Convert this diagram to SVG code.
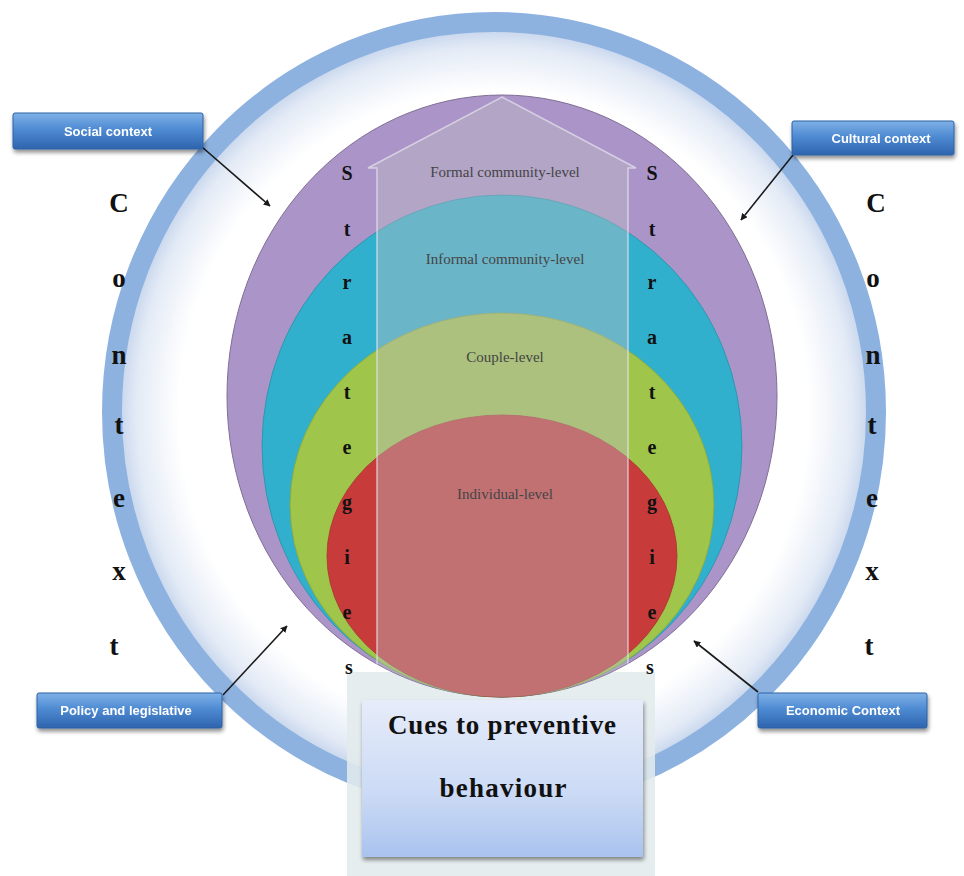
<svg xmlns="http://www.w3.org/2000/svg" width="964" height="876" viewBox="0 0 964 876">
<defs>
<radialGradient id="inner" cx="0.5" cy="0.5" r="0.5">
<stop offset="0" stop-color="#ffffff"/>
<stop offset="0.82" stop-color="#ffffff"/>
<stop offset="0.93" stop-color="#e4ebf6"/>
<stop offset="1" stop-color="#b8cbe8"/>
</radialGradient>
<linearGradient id="btn" x1="0" y1="0" x2="0" y2="1">
<stop offset="0" stop-color="#7fb1e6"/>
<stop offset="0.45" stop-color="#4f8bd3"/>
<stop offset="1" stop-color="#2d64ad"/>
</linearGradient>
<linearGradient id="cue" x1="0" y1="0" x2="0" y2="1">
<stop offset="0" stop-color="#e6ecfa"/>
<stop offset="0.6" stop-color="#cbdaf5"/>
<stop offset="1" stop-color="#a9c3ee"/>
</linearGradient>
<clipPath id="inPurple">
<ellipse cx="502" cy="396" rx="275" ry="301"/>
</clipPath>
<filter id="sh" x="-10%" y="-10%" width="125%" height="140%">
<feGaussianBlur in="SourceAlpha" stdDeviation="2"/>
<feOffset dx="1" dy="3"/>
<feComponentTransfer><feFuncA type="linear" slope="0.45"/></feComponentTransfer>
<feMerge><feMergeNode/><feMergeNode in="SourceGraphic"/></feMerge>
</filter>
<marker id="ah" viewBox="0 0 10 10" refX="9" refY="5" markerWidth="7" markerHeight="7" orient="auto" markerUnits="userSpaceOnUse">
<path d="M0,0 L10,5 L0,10 z" fill="#1a1a1a"/>
</marker>
<style>
.lvl{font-family:"Liberation Serif","Times New Roman",serif;font-size:15px;fill:#444444;text-anchor:middle}
.st{font-family:"Liberation Serif","Times New Roman",serif;font-size:20px;font-weight:bold;fill:#111;text-anchor:middle}
.ctx{font-family:"Liberation Serif","Times New Roman",serif;font-size:27px;font-weight:bold;fill:#111;text-anchor:middle}
.btxt{font-family:"Liberation Sans",Arial,sans-serif;font-size:13px;font-weight:bold;fill:#ffffff;text-anchor:middle}
.cue{font-family:"Liberation Serif","Times New Roman",serif;font-size:27px;font-weight:bold;fill:#111;text-anchor:middle}
.btn{fill:url(#btn);stroke:#2f62a6;stroke-width:1}
.conn{stroke:#1a1a1a;stroke-width:1.6;fill:none;marker-end:url(#ah)}
</style>
</defs>
<rect width="964" height="876" fill="#ffffff"/>
<g id="outer-ring">
<ellipse cx="494" cy="412" rx="384" ry="392" fill="url(#inner)"/>
<ellipse cx="494" cy="412" rx="382" ry="390" fill="none" stroke="#8db2e0" stroke-width="20"/>
</g>
<rect id="cue-column" x="347" y="672" width="308" height="204" fill="#e2eaec" fill-opacity="0.88"/>
<g id="levels">
<ellipse id="formal" cx="502" cy="396" rx="275" ry="301" fill="#ab95c8" stroke="#7f6f95" stroke-width="1"/>
<ellipse id="informal" cx="502" cy="446" rx="240" ry="251" fill="#31b0cd" stroke="#2a8fa8" stroke-width="0.8"/>
<ellipse id="couple" cx="502" cy="505" rx="212" ry="192" fill="#9fc54a" stroke="#86a63c" stroke-width="0.8"/>
<ellipse id="individual" cx="502" cy="556" rx="175" ry="141" fill="#c73c3a" stroke="#a83230" stroke-width="0.8"/>
</g>
<g id="up-arrow" clip-path="url(#inPurple)">
<polygon points="502,97 636,168 628,168 628,700 377,700 377,168 368,168" fill="#bcbcc4" fill-opacity="0.42" stroke="#e8e4f0" stroke-opacity="0.7" stroke-width="1.5"/>
</g>
<g id="level-labels">
<text class="lvl" x="505" y="177">Formal community-level</text>
<text class="lvl" x="505" y="264">Informal community-level</text>
<text class="lvl" x="505" y="362">Couple-level</text>
<text class="lvl" x="505" y="499">Individual-level</text>
</g>
<g id="strategies-left">
<text class="st" x="347" y="180">S</text>
<text class="st" x="347" y="236">t</text>
<text class="st" x="347" y="289">r</text>
<text class="st" x="347" y="344">a</text>
<text class="st" x="347" y="399">t</text>
<text class="st" x="347" y="454">e</text>
<text class="st" x="347" y="509">g</text>
<text class="st" x="347" y="564">i</text>
<text class="st" x="347" y="619">e</text>
<text class="st" x="349" y="674">s</text>
</g>
<g id="strategies-right">
<text class="st" x="652" y="180">S</text>
<text class="st" x="652" y="236">t</text>
<text class="st" x="652" y="289">r</text>
<text class="st" x="652" y="344">a</text>
<text class="st" x="652" y="399">t</text>
<text class="st" x="652" y="454">e</text>
<text class="st" x="652" y="509">g</text>
<text class="st" x="652" y="564">i</text>
<text class="st" x="652" y="619">e</text>
<text class="st" x="650" y="674">s</text>
</g>
<g id="cues">
<rect x="362" y="700" width="281" height="157" fill="url(#cue)" filter="url(#sh)"/>
<text class="cue" x="502" y="734" textLength="228" lengthAdjust="spacing">Cues to preventive</text>
<text class="cue" x="503" y="797" textLength="127" lengthAdjust="spacing">behaviour</text>
</g>
<g id="context-left">
<text class="ctx" x="119" y="212">C</text>
<text class="ctx" x="119" y="287">o</text>
<text class="ctx" x="119" y="364">n</text>
<text class="ctx" x="119" y="434">t</text>
<text class="ctx" x="119" y="507">e</text>
<text class="ctx" x="119" y="580">x</text>
<text class="ctx" x="114" y="655">t</text>
</g>
<g id="context-right">
<text class="ctx" x="876" y="212">C</text>
<text class="ctx" x="873" y="287">o</text>
<text class="ctx" x="873" y="364">n</text>
<text class="ctx" x="872" y="434">t</text>
<text class="ctx" x="872" y="507">e</text>
<text class="ctx" x="872" y="580">x</text>
<text class="ctx" x="869" y="655">t</text>
</g>
<g id="connectors">
<line class="conn" x1="202" y1="147" x2="270" y2="206"/>
<line class="conn" x1="793" y1="155" x2="741" y2="220"/>
<line class="conn" x1="223" y1="695" x2="287" y2="626"/>
<line class="conn" x1="758" y1="692" x2="694" y2="641"/>
</g>
<g id="social-context" filter="url(#sh)">
<rect class="btn" x="13" y="113" width="190" height="36" rx="2"/>
<text class="btxt" x="108" y="136">Social context</text>
</g>
<g id="cultural-context" filter="url(#sh)">
<rect class="btn" x="792" y="121" width="162" height="34" rx="2"/>
<text class="btxt" x="881" y="143">Cultural context</text>
</g>
<g id="policy-legislative" filter="url(#sh)">
<rect class="btn" x="37" y="693" width="185" height="35" rx="2"/>
<text class="btxt" x="126" y="715">Policy and legislative</text>
</g>
<g id="economic-context" filter="url(#sh)">
<rect class="btn" x="758" y="693" width="169" height="35" rx="2"/>
<text class="btxt" x="843" y="715">Economic Context</text>
</g>
</svg>
